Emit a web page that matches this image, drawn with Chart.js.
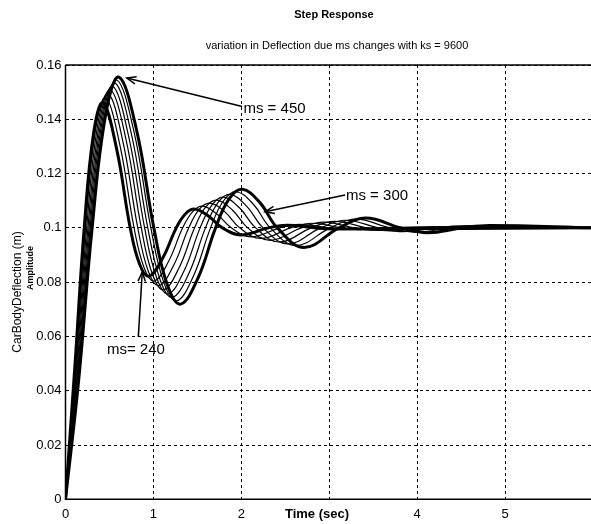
<!DOCTYPE html>
<html><head><meta charset="utf-8">
<script src="https://cdn.jsdelivr.net/npm/chart.js@4.4.1/dist/chart.umd.min.js"></script>
<style>
html,body{margin:0;padding:0;background:#fff;overflow:hidden;width:591px;height:524px}
#wrap{position:relative;width:600px;height:524px}
</style>
</head><body><div id="wrap"><canvas id="c" width="600" height="524"></canvas></div>
<script>
const chartTitle = 'Step Response';
const chartSubtitle = 'variation in Deflection due ms changes with ks = 9600';
const xAxisTitle = 'Time (sec)';
const yAxisTitle = 'CarBodyDeflection (m)';
const yAxisSubTitle = 'Amplitude';
const xTickValues = [0, 1, 2, 3, 4, 5, 6];
const xTickLabels = ['0', '1', '2', '', '4', '5', ''];
const yTickValues = [0, 0.02, 0.04, 0.06, 0.08, 0.1, 0.12, 0.14, 0.16];
const yTickLabels = ['0', '0.02', '0.04', '0.06', '0.08', '0.1', '0.12', '0.14', '0.16'];
const massValues = [240, 270, 300, 330, 360, 390, 420, 450];
const annotationTexts = ['ms = 450', 'ms = 300', 'ms= 240'];

const time240 = [0,0.106,0.213,0.319,0.426,0.581,0.736,0.843,0.949,1.105,1.260,1.366,1.473,1.628,1.784,1.996,2.308,2.520,2.831,3.044,6];
const defl240 = [0,0.0487,0.1,0.1348,0.1461,0.1292,0.1,0.0866,0.0822,0.0888,0.1,0.1052,0.1069,0.1043,0.1,0.0974,0.1,0.1010,0.1,0.0996,0.1];
const time270 = [0,0.114,0.228,0.341,0.455,0.618,0.780,0.894,1.008,1.170,1.333,1.447,1.560,1.722,1.886,2.113,2.438,2.666,2.991,3.219,3.544,3.771,6];
const defl270 = [0,0.0479,0.1,0.1360,0.1479,0.1306,0.1,0.0853,0.0804,0.0875,0.1,0.1060,0.1080,0.1051,0.1,0.0967,0.1,0.1013,0.1,0.0995,0.1,0.1002,0.1];
const time300 = [0,0.121,0.241,0.362,0.484,0.653,0.822,0.942,1.063,1.232,1.402,1.523,1.644,1.813,1.982,2.223,2.562,2.803,3.142,3.384,3.722,3.963,6];
const defl300 = [0,0.0471,0.1,0.1371,0.1495,0.1318,0.1,0.0840,0.0787,0.0863,0.1,0.1069,0.1091,0.1059,0.1,0.0961,0.1,0.1017,0.1,0.0993,0.1,0.1003,0.1];
const time330 = [0,0.127,0.255,0.383,0.510,0.686,0.862,0.989,1.116,1.292,1.468,1.595,1.722,1.898,2.074,2.329,2.681,2.936,3.287,3.542,3.893,4.148,6];
const defl330 = [0,0.0465,0.1,0.1381,0.1509,0.1329,0.1,0.0829,0.0772,0.0853,0.1,0.1077,0.1102,0.1066,0.1,0.0954,0.1,0.1021,0.1,0.0991,0.1,0.1004,0.1];
const time360 = [0,0.134,0.268,0.402,0.536,0.717,0.900,1.034,1.168,1.349,1.531,1.665,1.798,1.981,2.163,2.430,2.794,3.062,3.426,3.694,4.057,4.325,6];
const defl360 = [0,0.0459,0.1,0.1390,0.1522,0.1339,0.1,0.0819,0.0757,0.0842,0.1,0.1084,0.1113,0.1073,0.1,0.0948,0.1,0.1024,0.1,0.0989,0.1,0.1005,0.1];
const time390 = [0,0.140,0.280,0.420,0.561,0.748,0.936,1.076,1.216,1.404,1.592,1.732,1.872,2.060,2.248,2.528,2.904,3.184,3.560,3.840,4.216,4.496,6];
const defl390 = [0,0.0454,0.1,0.1399,0.1534,0.1348,0.1,0.0809,0.0744,0.0833,0.1,0.1092,0.1123,0.1080,0.1,0.0941,0.1,0.1028,0.1,0.0986,0.1,0.1007,0.1];
const time420 = [0,0.146,0.292,0.438,0.583,0.777,0.971,1.117,1.264,1.457,1.650,1.796,1.943,2.137,2.330,2.622,3.010,3.301,3.689,3.981,4.368,4.660,6];
const defl420 = [0,0.0450,0.1,0.1406,0.1545,0.1357,0.1,0.0800,0.0731,0.0824,0.1,0.1099,0.1133,0.1087,0.1,0.0935,0.1,0.1032,0.1,0.0984,0.1,0.1008,0.1];
const time450 = [0,0.152,0.303,0.455,0.607,0.806,1.005,1.157,1.309,1.508,1.707,1.859,2.011,2.211,2.409,2.713,3.111,3.415,3.813,4.117,4.515,4.819,6];
const defl450 = [0,0.0446,0.1,0.1413,0.1555,0.1364,0.1,0.0791,0.0719,0.0816,0.1,0.1106,0.1142,0.1093,0.1,0.0928,0.1,0.1036,0.1,0.0982,0.1,0.1009,0.1];

const seriesTimes = [time240, time270, time300, time330, time360, time390, time420, time450];
const seriesDefl = [defl240, defl270, defl300, defl330, defl360, defl390, defl420, defl450];

const FONT = '"Liberation Sans", Arial, Helvetica, sans-serif';
Chart.defaults.font.family = FONT;
Chart.defaults.color = '#000';

const datasets = massValues.map((m, k) => ({
  label: 'ms = ' + m,
  data: seriesTimes[k].map((t, i) => ({x: t, y: seriesDefl[k][i]})),
  borderColor: '#000',
  borderWidth: (k === 0 || k === massValues.length - 1) ? 3 : 1.2,
  pointRadius: 0,
  tension: 0.4,
  fill: false
}));

function arrow(ctx, x1, y1, x2, y2) {
  ctx.beginPath(); ctx.moveTo(x1, y1); ctx.lineTo(x2, y2); ctx.stroke();
  const a = Math.atan2(y2 - y1, x2 - x1), L = 10, w = 0.38;
  ctx.beginPath();
  ctx.moveTo(x2 - L * Math.cos(a - w), y2 - L * Math.sin(a - w));
  ctx.lineTo(x2, y2);
  ctx.lineTo(x2 - L * Math.cos(a + w), y2 - L * Math.sin(a + w));
  ctx.stroke();
}

const overlay = {
  id: 'overlay',
  afterDraw(chart) {
    const {ctx, chartArea: a, scales: {x, y}} = chart;
    ctx.save();
    ctx.setLineDash([]);
    ctx.strokeStyle = '#000';
    ctx.lineWidth = 1.5;
    ctx.beginPath();
    ctx.moveTo(a.left, a.top); ctx.lineTo(a.right + 10, a.top);
    ctx.moveTo(a.left, a.top); ctx.lineTo(a.left, a.bottom); ctx.lineTo(a.right + 10, a.bottom);
    ctx.stroke();

    ctx.fillStyle = '#000';
    ctx.textAlign = 'center';
    ctx.textBaseline = 'middle';
    ctx.font = 'bold 11px ' + FONT;
    ctx.fillText(chartTitle, 334, 15);
    ctx.font = '11px ' + FONT;
    ctx.fillText(chartSubtitle, 337, 46);
    ctx.font = 'bold 13px ' + FONT;
    ctx.fillText(xAxisTitle, 317, 514);

    ctx.save(); ctx.translate(18, 292); ctx.rotate(-Math.PI / 2);
    ctx.font = '12px ' + FONT; ctx.fillText(yAxisTitle, 0, 0); ctx.restore();
    ctx.save(); ctx.translate(31, 268); ctx.rotate(-Math.PI / 2);
    ctx.font = 'bold 9px ' + FONT; ctx.fillText(yAxisSubTitle, 0, 0); ctx.restore();

    // annotations (data coordinates)
    ctx.lineWidth = 1.5;
    ctx.font = '15px ' + FONT;
    ctx.textAlign = 'left';
    arrow(ctx, x.getPixelForValue(2.01), y.getPixelForValue(0.1447), x.getPixelForValue(0.697), y.getPixelForValue(0.1552));
    ctx.fillText(annotationTexts[0], x.getPixelForValue(2.024), y.getPixelForValue(0.1440));
    arrow(ctx, x.getPixelForValue(3.18), y.getPixelForValue(0.1121), x.getPixelForValue(2.27), y.getPixelForValue(0.1059));
    ctx.fillText(annotationTexts[1], x.getPixelForValue(3.19), y.getPixelForValue(0.1118));
    arrow(ctx, x.getPixelForValue(0.828), y.getPixelForValue(0.0598), x.getPixelForValue(0.873), y.getPixelForValue(0.0837));
    ctx.fillText(annotationTexts[2], x.getPixelForValue(0.471), y.getPixelForValue(0.0550));
    ctx.restore();
  }
};

new Chart(document.getElementById('c'), {
  type: 'line',
  data: {datasets},
  plugins: [overlay],
  options: {
    responsive: false,
    animation: false,
    events: [],
    layout: {padding: {top: 65, right: 5.5, left: 0, bottom: 0}},
    plugins: {legend: {display: false}, tooltip: {enabled: false}, title: {display: false}},
    scales: {
      x: {
        type: 'linear', min: 0, max: 6,
        afterBuildTicks: s => { s.ticks = xTickValues.map(v => ({value: v})); },
        afterFit: s => { s.height = 24.7; },
        ticks: {callback: (v, i) => xTickLabels[i], font: {size: 13}, color: '#000', padding: 7, maxRotation: 0, autoSkip: false},
        grid: {color: '#000', lineWidth: 1, drawTicks: false},
        border: {display: false, dash: [3, 3]}
      },
      y: {
        type: 'linear', min: 0, max: 0.16,
        afterBuildTicks: s => { s.ticks = yTickValues.map(v => ({value: v})); },
        afterFit: s => { s.width = 65.5; },
        ticks: {callback: (v, i) => yTickLabels[i], font: {size: 13}, color: '#000', padding: 4, autoSkip: false},
        grid: {color: '#000', lineWidth: 1, drawTicks: false},
        border: {display: false, dash: [3, 3]}
      }
    }
  }
});
</script>
</body></html>
